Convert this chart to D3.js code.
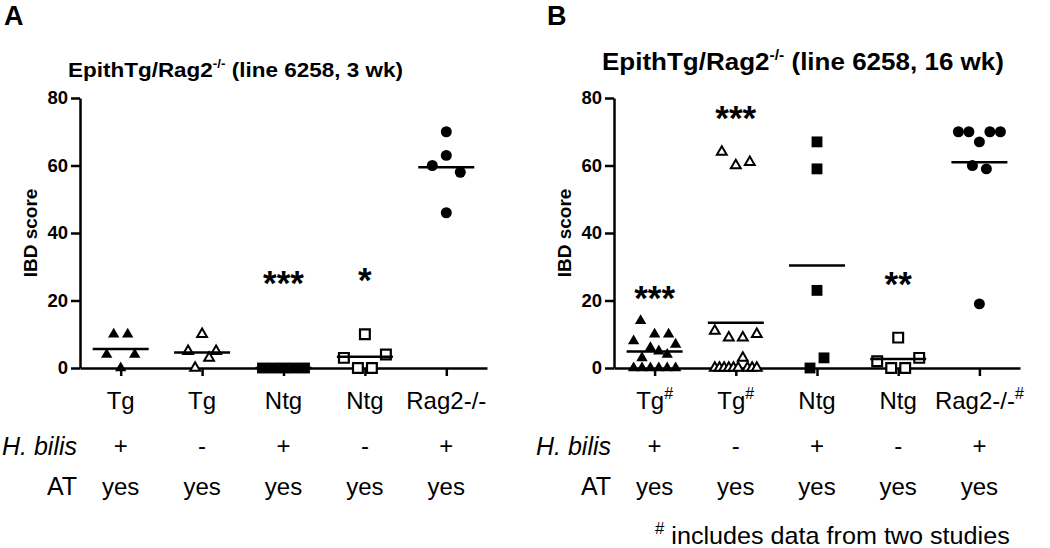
<!DOCTYPE html>
<html><head><meta charset="utf-8">
<script src="https://cdn.jsdelivr.net/npm/d3@7"></script>
<style>
html,body{margin:0;padding:0;background:#fff;}
svg text{font-family:"Liberation Sans",Arial,sans-serif;fill:#000;}
</style></head>
<body><svg id="c" width="1050" height="548"></svg>
<script>
// ---------- data ----------
const categoriesA = ["Tg", "Tg", "Ntg", "Ntg", "Rag2-/-"];
const categoriesB = ["Tg", "Tg", "Ntg", "Ntg", "Rag2-/-"];
const twoStudyFlagsB = [true, true, false, false, true];
const hBilisRow = ["+", "-", "+", "-", "+"];
const atRow = ["yes", "yes", "yes", "yes", "yes"];
const yTicks = [0, 20, 40, 60, 80];

// Panel A (3 wk)
const tgPlusA   = [10, 10, 4, 0, 4];
const tgMinusA  = [5, 10, 5, 0, 3];
const ntgPlusA  = [0, 0, 0, 0, 0];
const ntgMinusA = [10, 3, 0, 0, 4];
const ragA      = [70, 60, 63, 58, 46];
const meanA     = [5.6, 4.6, 0, 3.3, 59.5];
const starsA    = ["", "", "***", "*", ""];
const starsAtA  = [0, 0, 27, 28, 0];

// Panel B (16 wk)
const tgPlusB   = [14, 10, 10, 8, 3, 6, 5, 4, 7, 0, 0, 0, 0, 0, 0];
const tgMinusB  = [64, 60, 61, 11, 9, 9, 10, 0, 0, 0, 0, 0, 0, 3, 0, 0, 0];
const ntgPlusB  = [67, 59, 23, 0, 3];
const ntgMinusB = [9, 2, 0, 0, 3];
const ragB      = [70, 70, 67, 70, 70, 60, 59, 19];
const meanB     = [4.9, 13.4, 30.4, 2.7, 61.0];
const starsB    = ["***", "***", "", "**", ""];
const starsAtB  = [22.5, 76, 0, 26.7, 0];

// marker kinds per column
const markerKinds = ["triFill", "triOpen", "sqFill", "sqOpen", "circFill"];

// ---------- drawing ----------
const svg = d3.select("#c");
const FONT = '"Liberation Sans",Arial,sans-serif';
const LBL = 24;

function rowLayout(values, base, maxSpan, thr) {
  const idx = values.map((v, i) => i).sort((a, b) => (values[b] - values[a]) || (a - b));
  const rows = [];
  let cur = null;
  idx.forEach(i => {
    if (cur && cur.start - values[i] <= thr + 1e-9) cur.members.push(i);
    else { cur = {start: values[i], members: [i]}; rows.push(cur); }
  });
  const off = new Array(values.length).fill(0);
  rows.forEach(r => {
    const m = r.members.slice().sort((a, b) => a - b);
    const n = m.length;
    const sp = n > 1 ? Math.min(base, maxSpan / (n - 1)) : 0;
    m.forEach((i, k) => { off[i] = (k - (n - 1) / 2) * sp; });
  });
  return off;
}

const symbolFor = {
  triFill: {type: d3.symbolTriangle, size: 56, fill: "#000", stroke: "none", sw: 0},
  triOpen: {type: d3.symbolTriangle, size: 42, fill: "#fff", stroke: "#000", sw: 2},
  sqFill:  {type: d3.symbolSquare, size: 118, fill: "#000", stroke: "none", sw: 0},
  sqOpen:  {type: d3.symbolSquare, size: 96, fill: "#fff", stroke: "#000", sw: 2.2},
  circFill:{type: d3.symbolCircle, size: 95, fill: "#000", stroke: "none", sw: 0}
};

function fitWidth(sel, x, y, target) {
  const w = sel.node().getBBox().width;
  sel.attr("x", 0).attr("y", 0)
     .attr("transform", `translate(${x},${y}) scale(${target / w},1)`);
}

function drawPanel(cfg) {
  const g = svg.append("g");
  const y = d3.scaleLinear().domain([0, 80]).range([368, 98]);
  const x = d3.scalePoint().domain(d3.range(5)).range([cfg.x0, cfg.x1]).padding(0.5);

  // panel letter
  g.append("text").attr("x", cfg.letterX).attr("y", cfg.letterY)
    .attr("font-size", 27).attr("font-weight", "bold").text(cfg.letter);

  // title
  const t = g.append("text")
    .attr("font-size", cfg.titleSize).attr("font-weight", "bold");
  t.append("tspan").text("EpithTg/Rag2");
  t.append("tspan").attr("font-size", cfg.titleSize * 0.6).attr("dy", -cfg.titleSize * 0.42).text("-/-");
  t.append("tspan").attr("dy", cfg.titleSize * 0.42).text(" " + cfg.titleRest);
  fitWidth(t, cfg.x0 - 12, cfg.titleY, cfg.titleW);

  // y axis
  const ya = g.append("g").attr("transform", `translate(${cfg.x0},0)`)
    .call(d3.axisLeft(y).tickValues(yTicks).tickSize(9).tickSizeOuter(0).tickPadding(3));
  ya.select(".domain").attr("stroke", "#000").attr("stroke-width", 2.5);
  ya.selectAll(".tick line").attr("stroke", "#000").attr("stroke-width", 2.5);
  ya.selectAll(".tick text").attr("font-family", FONT).attr("font-size", 18.5).attr("font-weight", "bold").attr("fill", "#000");

  // x axis
  const xa = g.append("g").attr("transform", `translate(0,${y(0)})`)
    .call(d3.axisBottom(x).tickSize(8).tickSizeOuter(0).tickFormat(""));
  xa.select(".domain").attr("stroke", "#000").attr("stroke-width", 2.5);
  xa.selectAll(".tick line").attr("stroke", "#000").attr("stroke-width", 2.5);

  // y axis title
  g.append("text").attr("transform", `translate(${cfg.x0 - 43},${(y(0) + y(80)) / 2}) rotate(-90)`)
    .attr("text-anchor", "middle").attr("font-size", 19).attr("font-weight", "bold").text("IBD score");

  // points
  cfg.groups.forEach((vals, ci) => {
    const off = rowLayout(vals, 14, 42, 5);
    const s = symbolFor[markerKinds[ci]];
    const sym = d3.symbol().type(s.type).size(s.size);
    g.append("g").selectAll("path").data(vals).join("path")
      .attr("d", sym)
      .attr("transform", (d, i) => `translate(${x(ci) + off[i]},${y(d)})`)
      .attr("fill", s.fill).attr("stroke", s.stroke).attr("stroke-width", s.sw);
  });

  // mean lines
  g.append("g").selectAll("line").data(cfg.means).join("line")
    .attr("x1", (d, i) => x(i) - 28).attr("x2", (d, i) => x(i) + 28)
    .attr("y1", d => y(d)).attr("y2", d => y(d))
    .attr("stroke", "#000").attr("stroke-width", 2.5);

  // significance stars
  g.append("g").selectAll("text").data(cfg.stars).join("text")
    .attr("x", (d, i) => x(i)).attr("y", (d, i) => y(cfg.starsAt[i]) + 18)
    .attr("text-anchor", "middle").attr("font-size", 35).attr("font-weight", "bold")
    .text(d => d);

  // category labels
  const cl = g.append("g").selectAll("text").data(cfg.categories).join("text")
    .attr("x", (d, i) => x(i)).attr("y", 409).attr("text-anchor", "middle").attr("font-size", LBL);
  cl.append("tspan").text(d => d);
  cl.filter((d, i) => cfg.flags[i]).append("tspan").attr("font-size", 16).attr("dy", -10).text("#");

  // H. bilis row
  g.append("text").attr("x", cfg.x0 - 3).attr("y", 455).attr("text-anchor", "end")
    .attr("font-size", LBL + 1).attr("font-style", "italic").text("H. bilis");
  g.append("g").selectAll("text").data(hBilisRow).join("text")
    .attr("x", (d, i) => x(i)).attr("y", 454).attr("text-anchor", "middle").attr("font-size", LBL).text(d => d);

  // AT row
  g.append("text").attr("x", cfg.x0 - 3).attr("y", 495).attr("text-anchor", "end")
    .attr("font-size", LBL + 1).text("AT");
  g.append("g").selectAll("text").data(atRow).join("text")
    .attr("x", (d, i) => x(i)).attr("y", 495).attr("text-anchor", "middle").attr("font-size", LBL).text(d => d);
}

drawPanel({
  letter: "A", letterX: 4, letterY: 25, x0: 80, x1: 487, titleY: 77, titleSize: 21, titleW: 335,
  titleRest: "(line 6258, 3 wk)",
  groups: [tgPlusA, tgMinusA, ntgPlusA, ntgMinusA, ragA], means: meanA,
  stars: starsA, starsAt: starsAtA, categories: categoriesA, flags: [false, false, false, false, false]
});
drawPanel({
  letter: "B", letterX: 547, letterY: 25, x0: 614, x1: 1020, titleY: 70, titleSize: 24, titleW: 402,
  titleRest: "(line 6258, 16 wk)",
  groups: [tgPlusB, tgMinusB, ntgPlusB, ntgMinusB, ragB], means: meanB,
  stars: starsB, starsAt: starsAtB, categories: categoriesB, flags: twoStudyFlagsB
});

// footnote
const fn = svg.append("text").attr("font-size", LBL);
fn.append("tspan").attr("font-size", 16).attr("dy", -10).text("#");
fn.append("tspan").attr("dy", 10).text(" includes data from two studies");
fitWidth(fn, 655, 544, 355);
</script></body></html>
